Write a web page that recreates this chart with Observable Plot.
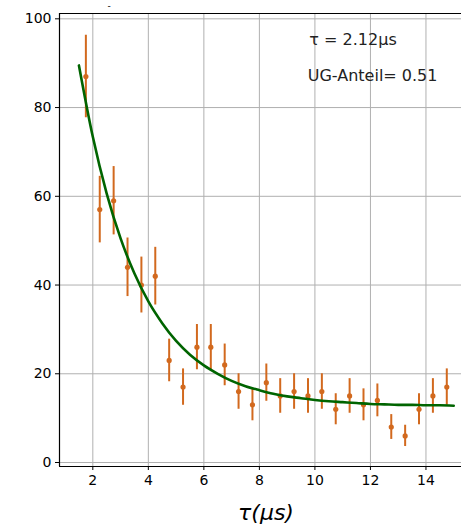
<!DOCTYPE html>
<html>
<head>
<meta charset="utf-8">
<script src="https://cdn.jsdelivr.net/npm/d3@7"></script>
<script src="https://cdn.jsdelivr.net/npm/@observablehq/plot@0.6"></script>
<style>
  html, body { margin: 0; padding: 0; background: #fff; }
  #chart { width: 461px; height: 526px; overflow: hidden; }
</style>
</head>
<body>
<div id="chart"></div>
<script>
// Measured delay times (µs)
const times = [1.75, 2.25, 2.75, 3.25, 3.75, 4.25, 4.75, 5.25, 5.75, 6.25, 6.75, 7.25, 7.75, 8.25,
  8.75, 9.25, 9.75, 10.25, 10.75, 11.25, 11.75, 12.25, 12.75, 13.25, 13.75, 14.25, 14.75];
// Counts
const counts = [87, 57, 59, 44, 40, 42, 23, 17, 26, 26, 22, 16, 13, 18,
  15, 16, 15, 16, 12, 15, 13, 14, 8, 6, 12, 15, 17];
// Error bar half-widths
const errors = [9.3, 7.5, 7.7, 6.6, 6.3, 6.5, 4.8, 4.1, 5.1, 5.1, 4.7, 4.0, 3.6, 4.2,
  3.9, 4.0, 3.9, 4.0, 3.5, 3.9, 3.6, 3.7, 2.8, 2.4, 3.5, 3.9, 4.1];
// Fit curve samples
const fitX = [1.5, 2, 2.5, 3, 3.5, 4, 4.5, 5, 5.5, 6, 6.5, 7, 7.5, 8, 8.5, 9, 9.5, 10,
  10.5, 11, 11.5, 12, 12.5, 13, 13.5, 14, 14.5, 15];
const fitY = [89.5, 73.4, 60.6, 50.5, 42.6, 36.3, 31.4, 27.4, 24.3, 21.9, 20.0, 18.4, 17.2, 16.3,
  15.5, 14.9, 14.5, 14.1, 13.8, 13.6, 13.4, 13.2, 13.1, 13.0, 13.0, 12.9, 12.9, 12.8];
// Tick labels
const xTicks = [2, 4, 6, 8, 10, 12, 14];
const yTicks = [0, 20, 40, 60, 80, 100];
// Annotations
const notes = [
  {x: 9.80, y: 95.3, text: "τ = 2.12μs"},
  {x: 9.74, y: 87.1, text: "UG-Anteil= 0.51"}
];

const points = times.map((t, i) => ({t, n: counts[i], e: errors[i]}));
const fit = fitX.map((x, i) => ({x, y: fitY[i]}));

const X0 = 0.8, X1 = 15.28, Y0 = -0.9, Y1 = 101.2;
const orange = "#d2691e";
const green = "#006400";
const font = "DejaVu Sans, sans-serif";

const plot = Plot.plot({
  width: 461,
  height: 526,
  marginLeft: 59,
  marginRight: 0,
  marginTop: 13,
  marginBottom: 60,
  style: {fontFamily: font, fontSize: "14px", color: "#000", background: "#fff"},
  x: {domain: [X0, X1], ticks: xTicks, tickSize: 4, tickPadding: 4, label: null},
  y: {domain: [Y0, Y1], ticks: yTicks, tickSize: 4, tickPadding: 4, label: null},
  marks: [
    Plot.gridX(xTicks, {stroke: "#b0b0b0", strokeOpacity: 1, strokeWidth: 1}),
    Plot.gridY(yTicks, {stroke: "#b0b0b0", strokeOpacity: 1, strokeWidth: 1}),
    Plot.ruleX(points, {x: "t", y1: d => d.n - d.e, y2: d => d.n + d.e, stroke: orange, strokeWidth: 2}),
    Plot.dot(points, {x: "t", y: "n", r: 2.6, fill: orange, stroke: "none"}),
    Plot.line(fit, {x: "x", y: "y", stroke: green, strokeWidth: 2.6, curve: "monotone-x"}),
    Plot.axisX({ticks: xTicks, tickSize: 4, tickPadding: 5, fontSize: 14, label: null}),
    Plot.axisY({ticks: yTicks, tickSize: 4, tickPadding: 4, fontSize: 14, label: null}),
    Plot.ruleX([X0], {stroke: "#000", strokeWidth: 1.2}),
    Plot.ruleY([Y0, Y1], {stroke: "#000", strokeWidth: 1.2}),
    Plot.text(notes, {x: "x", y: "y", text: "text", textAnchor: "start", fontSize: 16, fill: "#222"})
  ]
});

const svg = d3.select(plot);
// x-axis label
svg.append("text")
  .attr("x", 266).attr("y", 514)
  .attr("text-anchor", "middle")
  .attr("dominant-baseline", "middle")
  .attr("font-family", font)
  .attr("font-size", 22)
  .attr("font-style", "italic")
  .text("τ(μs)");
// clipped title remnant
svg.append("text")
  .attr("x", 109).attr("y", 9)
  .attr("text-anchor", "middle")
  .attr("font-family", font)
  .attr("font-size", 9)
  .text("-");

document.getElementById("chart").appendChild(plot);
</script>
</body>
</html>
